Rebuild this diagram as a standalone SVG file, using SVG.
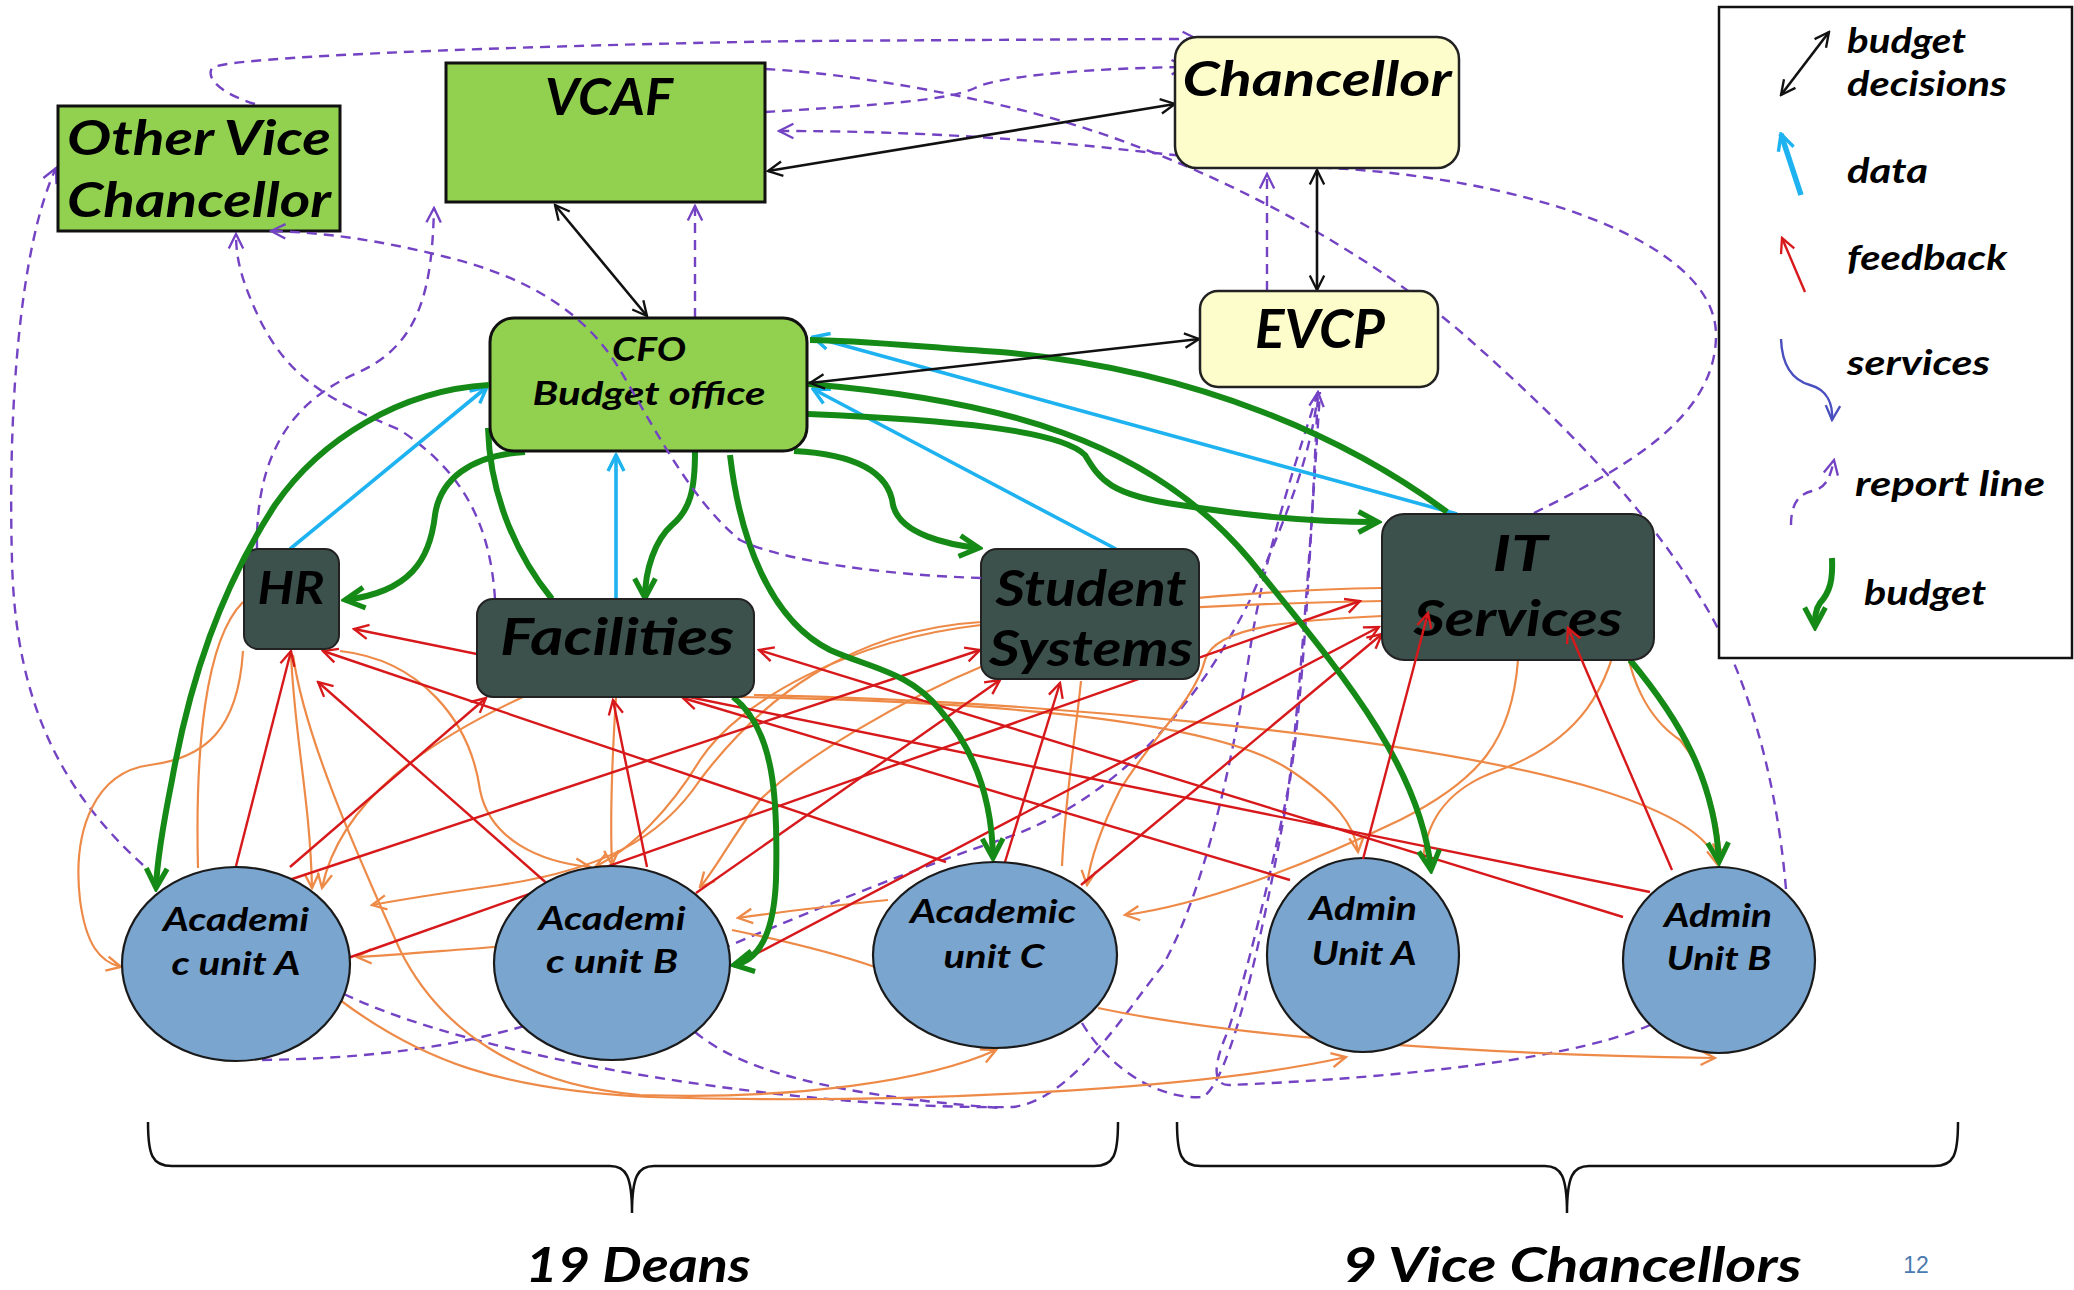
<svg xmlns="http://www.w3.org/2000/svg" width="2074" height="1290" viewBox="0 0 2074 1290">
  <defs>
    <style>
      .lbl { font-family: "Lato", "Open Sans", "DejaVu Sans", sans-serif; font-weight: bold; font-style: italic; fill: #000; text-anchor: middle; }
      .leg { font-family: "Lato", "Open Sans", "DejaVu Sans", sans-serif; font-weight: bold; font-style: italic; fill: #000; font-size: 34px; }
      .green { fill: #92d050; stroke: #111; stroke-width: 3; }
      .pale { fill: #fdfccb; stroke: #222; stroke-width: 2.5; }
      .dark { fill: #3c504c; stroke: #222; stroke-width: 2; }
      .unit { fill: #7aa5cf; stroke: #1a1a1a; stroke-width: 2.2; }
      .bd { stroke: #111; stroke-width: 2.6; fill: none; marker-start: url(#ah-black); marker-end: url(#ah-black); }
      .dt { stroke: #1eb3f0; stroke-width: 3.6; fill: none; marker-end: url(#ah-cyan); }
      .fb { stroke: #d7191c; stroke-width: 2.4; fill: none; marker-end: url(#ah-red); }
      .sv { stroke: #ee8a48; stroke-width: 2.2; fill: none; }
      .sva { marker-end: url(#ah-orange); }
      .rp { stroke: #7443c4; stroke-width: 2.4; fill: none; stroke-dasharray: 10 7; }
      .rpa { marker-end: url(#ah-purple); }
      .bg { stroke: #168a16; stroke-width: 6; fill: none; }
      .bga { marker-end: url(#ah-green); }
      .brace { stroke: #111; stroke-width: 2.5; fill: none; }
    </style>
    <marker id="ah-black" viewBox="0 0 20 20" refX="18" refY="10" markerWidth="18" markerHeight="18" markerUnits="userSpaceOnUse" orient="auto-start-reverse">
      <path d="M2,2 L18,10 L2,18" fill="none" stroke="#111" stroke-width="2.6"/>
    </marker>
    <marker id="ah-cyan" viewBox="0 0 20 20" refX="18" refY="10" markerWidth="20" markerHeight="20" markerUnits="userSpaceOnUse" orient="auto">
      <path d="M2,2 L18,10 L2,18" fill="none" stroke="#1eb3f0" stroke-width="3.4"/>
    </marker>
    <marker id="ah-red" viewBox="0 0 20 20" refX="18" refY="10" markerWidth="18" markerHeight="18" markerUnits="userSpaceOnUse" orient="auto">
      <path d="M2,2 L18,10 L2,18" fill="none" stroke="#d7191c" stroke-width="2.6"/>
    </marker>
    <marker id="ah-orange" viewBox="0 0 20 20" refX="18" refY="10" markerWidth="18" markerHeight="18" markerUnits="userSpaceOnUse" orient="auto">
      <path d="M2,2 L18,10 L2,18" fill="none" stroke="#ee8a48" stroke-width="2.6"/>
    </marker>
    <marker id="ah-purple" viewBox="0 0 20 20" refX="18" refY="10" markerWidth="18" markerHeight="18" markerUnits="userSpaceOnUse" orient="auto">
      <path d="M2,2 L18,10 L2,18" fill="none" stroke="#7443c4" stroke-width="2.6"/>
    </marker>
    <marker id="ah-green" viewBox="0 0 20 20" refX="17" refY="10" markerWidth="26" markerHeight="26" markerUnits="userSpaceOnUse" orient="auto">
      <path d="M2,2 L17,10 L2,18" fill="none" stroke="#168a16" stroke-width="4"/>
    </marker>
    <marker id="ah-blue" viewBox="0 0 20 20" refX="18" refY="10" markerWidth="18" markerHeight="18" markerUnits="userSpaceOnUse" orient="auto">
      <path d="M2,2 L18,10 L2,18" fill="none" stroke="#4a4fc0" stroke-width="2.6"/>
    </marker>
  </defs>

  <rect width="2074" height="1290" fill="#ffffff"/>

  <!-- connectors, drawn beneath the boxes -->
  <g id="connectors">
    <!-- report lines (dashed) -->
    <path class="rp rpa" d="M255,104 C225,95 205,80 212,68 C225,55 600,44 800,41 C1000,40 1100,39 1197,39"/>
    <path class="rp" d="M1786,889 C1775,760 1740,660 1700,597 C1640,500 1560,420 1470,340 C1380,260 1200,150 1000,105 C900,82 820,72 765,69"/>
    <path class="rp rpa" d="M765,112 C880,105 950,100 975,88 C1000,75 1100,68 1186,67"/>
    <path class="rp rpa" d="M1534,513 C1620,470 1716,420 1716,335 C1716,240 1520,178 1330,168 C1250,163 1180,156 1100,147 C1000,137 900,131 779,131"/>
    <path class="rp rpa" d="M1267,291 L1267,174"/>
    <path class="rp rpa" d="M695,318 L695,206"/>
    <path class="rp rpa" d="M143,865 C60,790 15,700 12,560 C8,420 18,250 56,168"/>
    <path class="rp rpa" d="M257,549 C255,445 300,398 357,373 C420,345 432,290 434,208"/>
    <path class="rp rpa" d="M495,599 C490,520 460,470 400,430 C330,400 290,380 260,320 C242,282 236,260 236,234"/>
    <path class="rp rpa" d="M262,1060 C400,1058 500,1040 600,1000 C720,950 880,880 1000,840 C1120,800 1200,700 1250,600 C1290,510 1312,450 1318,392"/>
    <path class="rp" d="M344,994 C480,1060 800,1110 1013,1107 C1070,1100 1120,1020 1163,965 C1200,900 1230,780 1250,650 C1265,550 1300,450 1318,392"/>
    <path class="rp" d="M1082,1023 C1110,1070 1160,1100 1203,1097 C1230,1080 1260,950 1287,800 C1300,700 1310,550 1320,392"/>
    <path class="rp" d="M1650,1025 C1560,1065 1350,1080 1230,1085 C1210,1086 1215,1060 1228,1031 C1245,980 1270,880 1290,780 C1305,680 1312,520 1318,392"/>
    <path class="rp" d="M695,1032 C740,1070 830,1095 1000,1108"/>

    <!-- services (orange) -->
    <path class="sv sva" d="M243,651 C238,730 205,758 150,765 C95,772 72,830 80,900 C86,945 100,962 121,967"/>
    <path class="sv" d="M243,602 C205,640 195,750 198,868"/>
    <path class="sv sva" d="M291,655 C295,740 310,800 312,888"/>
    <path class="sv sva" d="M293,655 C305,740 360,860 400,950 C440,1030 520,1085 640,1095 C800,1100 930,1080 996,1050"/>
    <path class="sv sva" d="M340,1000 C420,1060 500,1090 650,1097 C900,1105 1200,1090 1346,1057"/>
    <path class="sv sva" d="M340,651 C420,660 470,720 480,790 C490,840 540,862 590,867"/>
    <path class="sv sva" d="M523,697 C430,740 340,800 322,888"/>
    <path class="sv sva" d="M616,697 C612,760 610,820 612,865"/>
    <path class="sv sva" d="M740,697 C900,700 1200,710 1290,770 C1335,800 1355,825 1358,852"/>
    <path class="sv sva" d="M754,695 C1000,700 1400,730 1600,790 C1680,815 1712,840 1717,864"/>
    <path class="sv sva" d="M1382,588 C1250,590 1100,605 981,625 C850,640 740,700 700,760 C670,810 630,850 596,866"/>
    <path class="sv sva" d="M990,663 C900,700 800,760 760,800 C730,840 715,870 700,887"/>
    <path class="sv sva" d="M1382,601 C1250,603 1100,612 981,622 C850,630 760,700 700,780 C660,840 600,870 500,885 C450,892 410,898 372,905"/>
    <path class="sv sva" d="M1382,616 C1300,620 1215,625 1205,660 C1195,700 1150,740 1120,790 C1100,830 1090,860 1087,885"/>
    <path class="sv sva" d="M1518,660 C1512,740 1480,780 1400,820 C1300,868 1200,905 1125,915"/>
    <path class="sv" d="M1623,613 C1610,690 1580,740 1500,770 C1440,790 1425,830 1423,862"/>
    <path class="sv sva" d="M1623,613 C1625,680 1650,720 1680,740 C1705,770 1720,820 1720,858"/>
    <path class="sv sva" d="M1098,1008 C1250,1040 1500,1055 1715,1058"/>
    <path class="sv" d="M732,930 C780,940 840,955 875,967"/>
    <path class="sv sva" d="M888,900 C840,905 780,912 738,918"/>
    <path class="sv sva" d="M495,947 C450,950 400,955 357,957"/>
    <path class="sv" d="M1081,681 C1075,740 1065,800 1062,866"/>

    <!-- feedback (red) -->
    <path class="fb" d="M236,866 L291,651"/>
    <path class="fb" d="M290,867 L486,698"/>
    <path class="fb" d="M265,888 L980,650"/>
    <path class="fb" d="M348,958 L1360,601"/>
    <path class="fb" d="M551,887 L318,682"/>
    <path class="fb" d="M647,867 L613,700"/>
    <path class="fb" d="M696,893 L1000,680"/>
    <path class="fb" d="M754,955 L1379,627"/>
    <path class="fb" d="M1081,885 L1382,634"/>
    <path class="fb" d="M1005,862 L1060,683"/>
    <path class="fb" d="M946,862 L323,651"/>
    <path class="fb" d="M1623,917 L759,650"/>
    <path class="fb" d="M1650,892 L354,629"/>
    <path class="fb" d="M1290,880 L683,698"/>

    <!-- data (cyan) -->
    <path class="dt" d="M290,549 L487,387"/>
    <path class="dt" d="M616,599 L616,455"/>
    <path class="dt" d="M1116,549 L813,389"/>
    <path class="dt" d="M1457,514 L813,337"/>

    <!-- budget (green) -->
    <path class="bg bga" d="M525,452 C470,455 440,480 435,515 C430,560 410,592 345,600"/>
    <path class="bg" d="M488,428 C490,500 520,560 552,599"/>
    <path class="bg bga" d="M695,452 C695,490 690,510 672,525 C655,540 645,570 645,598"/>
    <path class="bg bga" d="M730,455 C740,540 770,620 830,650 C870,668 910,672 940,710 C975,750 992,800 993,858"/>
    <path class="bg bga" d="M794,451 C870,455 890,480 893,505 C900,535 950,545 979,548"/>
    <path class="bg bga" d="M808,414 C950,420 1060,430 1085,455 C1100,480 1110,495 1180,505 C1260,518 1330,522 1378,522"/>
    <path class="bg bga" d="M808,384 C1000,400 1150,440 1250,560 C1330,660 1420,760 1431,870"/>
    <path class="bg" d="M1447,512 C1350,440 1200,370 1000,352 C900,345 850,340 810,340"/>
    <path class="bg bga" d="M1630,660 C1680,720 1715,780 1719,862"/>
    <path class="bg bga" d="M733,697 C775,730 778,800 776,880 C774,930 760,960 734,965"/>

    <!-- budget decisions (black, two-way) -->
    <path class="bd" d="M768,171 L1175,104"/>
    <path class="bd" d="M555,205 L647,316"/>
    <path class="bd" d="M1317,170 L1317,290"/>
    <path class="bd" d="M810,383 L1199,339"/>
  </g>

  <!-- boxes -->
  <g id="other-vice-chancellor">
    <rect class="green" x="58" y="106" width="282" height="125"/>
    <text class="lbl" x="199" y="155" font-size="48" textLength="264" lengthAdjust="spacingAndGlyphs">Other Vice</text>
    <text class="lbl" x="199" y="217" font-size="48" textLength="264" lengthAdjust="spacingAndGlyphs">Chancellor</text>
  </g>
  <g id="vcaf">
    <rect class="green" x="446" y="63" width="319" height="139"/>
    <text class="lbl" x="609" y="115" font-size="52" textLength="128" lengthAdjust="spacingAndGlyphs">VCAF</text>
  </g>
  <g id="chancellor">
    <rect class="pale" x="1175" y="37" width="284" height="131" rx="22"/>
    <text class="lbl" x="1317" y="96" font-size="48" textLength="269" lengthAdjust="spacingAndGlyphs">Chancellor</text>
  </g>
  <g id="evcp">
    <rect class="pale" x="1200" y="291" width="238" height="96" rx="18"/>
    <text class="lbl" x="1320" y="348" font-size="54" textLength="130" lengthAdjust="spacingAndGlyphs">EVCP</text>
  </g>
  <g id="cfo">
    <rect class="green" x="490" y="318" width="317" height="133" rx="24" stroke-width="2.2"/>
    <text class="lbl" x="649" y="361" font-size="33" textLength="74" lengthAdjust="spacingAndGlyphs">CFO</text>
    <text class="lbl" x="649" y="405" font-size="33" textLength="233" lengthAdjust="spacingAndGlyphs">Budget office</text>
  </g>
  <g id="hr">
    <rect class="dark" x="244" y="549" width="95" height="100" rx="14"/>
    <text class="lbl" x="291" y="604" font-size="46" textLength="67" lengthAdjust="spacingAndGlyphs">HR</text>
  </g>
  <g id="facilities">
    <rect class="dark" x="477" y="599" width="277" height="98" rx="16"/>
    <text class="lbl" x="617" y="655" font-size="52" textLength="234" lengthAdjust="spacingAndGlyphs">Facilities</text>
  </g>
  <g id="student-systems">
    <rect class="dark" x="981" y="549" width="218" height="130" rx="16"/>
    <text class="lbl" x="1091" y="606" font-size="50" textLength="191" lengthAdjust="spacingAndGlyphs">Student</text>
    <text class="lbl" x="1091" y="666" font-size="50" textLength="204" lengthAdjust="spacingAndGlyphs">Systems</text>
  </g>
  <g id="it-services">
    <rect class="dark" x="1382" y="514" width="272" height="146" rx="22"/>
    <text class="lbl" x="1520" y="571" font-size="50" textLength="55" lengthAdjust="spacingAndGlyphs">IT</text>
    <text class="lbl" x="1518" y="636" font-size="50" textLength="209" lengthAdjust="spacingAndGlyphs">Services</text>
  </g>

  <!-- units -->
  <g id="academic-unit-a">
    <ellipse class="unit" cx="236" cy="964" rx="114" ry="97"/>
    <text class="lbl" x="236" y="931" font-size="32" textLength="146" lengthAdjust="spacingAndGlyphs">Academi</text>
    <text class="lbl" x="236" y="975" font-size="32" textLength="129" lengthAdjust="spacingAndGlyphs">c unit A</text>
  </g>
  <g id="academic-unit-b">
    <ellipse class="unit" cx="612" cy="963" rx="118" ry="97"/>
    <text class="lbl" x="612" y="930" font-size="32" textLength="147" lengthAdjust="spacingAndGlyphs">Academi</text>
    <text class="lbl" x="612" y="973" font-size="32" textLength="132" lengthAdjust="spacingAndGlyphs">c unit B</text>
  </g>
  <g id="academic-unit-c">
    <ellipse class="unit" cx="995" cy="955" rx="122" ry="93"/>
    <text class="lbl" x="993" y="923" font-size="32" textLength="166" lengthAdjust="spacingAndGlyphs">Academic</text>
    <text class="lbl" x="994" y="968" font-size="32" textLength="101" lengthAdjust="spacingAndGlyphs">unit C</text>
  </g>
  <g id="admin-unit-a">
    <ellipse class="unit" cx="1363" cy="955" rx="96" ry="97"/>
    <text class="lbl" x="1363" y="920" font-size="32" textLength="108" lengthAdjust="spacingAndGlyphs">Admin</text>
    <text class="lbl" x="1364" y="965" font-size="32" textLength="105" lengthAdjust="spacingAndGlyphs">Unit A</text>
  </g>
  <g id="admin-unit-b">
    <ellipse class="unit" cx="1719" cy="960" rx="96" ry="93"/>
    <text class="lbl" x="1718" y="927" font-size="32" textLength="108" lengthAdjust="spacingAndGlyphs">Admin</text>
    <text class="lbl" x="1719" y="970" font-size="32" textLength="105" lengthAdjust="spacingAndGlyphs">Unit B</text>
  </g>

  <!-- connectors that run across the boxes -->
  <g id="connectors-over">
    <path class="rp rpa" d="M981,578 C880,575 780,560 740,540 C690,500 650,420 620,370 C590,320 540,280 446,257 C380,240 320,232 271,231"/>
    <path class="bg bga" d="M489,385 C400,390 320,440 275,505 C220,590 190,680 172,780 C162,830 157,860 156,888"/>
    <path class="fb" d="M1363,859 L1428,613"/>
    <path class="fb" d="M1672,870 L1568,628"/>
  </g>

  <!-- legend -->
  <g id="legend">
    <rect x="1719" y="7" width="353" height="651" fill="#ffffff" stroke="#111" stroke-width="2.5"/>
    <path class="bd" d="M1781,95 L1829,32"/>
    <text class="leg" x="1847" y="53" textLength="119" lengthAdjust="spacingAndGlyphs">budget</text>
    <text class="leg" x="1847" y="96" textLength="160" lengthAdjust="spacingAndGlyphs">decisions</text>
    <path d="M1801,195 L1781,134" fill="none" stroke="#1eb3f0" stroke-width="5.5" marker-end="url(#ah-cyan)"/>
    <text class="leg" x="1847" y="183" textLength="81" lengthAdjust="spacingAndGlyphs">data</text>
    <path class="fb" d="M1805,292 L1782,238"/>
    <text class="leg" x="1847" y="270" textLength="160" lengthAdjust="spacingAndGlyphs">feedback</text>
    <path d="M1781,339 C1782,365 1792,380 1810,385 C1828,390 1833,405 1832,420" fill="none" stroke="#4a4fc0" stroke-width="2.4" marker-end="url(#ah-blue)"/>
    <text class="leg" x="1847" y="375" textLength="143" lengthAdjust="spacingAndGlyphs">services</text>
    <path class="rp rpa" d="M1791,525 C1791,505 1798,494 1812,491 C1826,488 1830,478 1834,460" stroke-dasharray="7 5"/>
    <text class="leg" x="1855" y="496" textLength="190" lengthAdjust="spacingAndGlyphs">report line</text>
    <path class="bg bga" d="M1832,558 C1833,580 1830,592 1820,603 C1815,610 1815,618 1815,627"/>
    <text class="leg" x="1864" y="605" textLength="122" lengthAdjust="spacingAndGlyphs">budget</text>
  </g>

  <!-- group braces and captions -->
  <g id="groups">
    <path class="brace" d="M148,1122 C148,1155 152,1166 172,1166 L610,1166 C626,1166 632,1176 632,1213 C632,1176 638,1166 654,1166 L1094,1166 C1114,1166 1118,1155 1118,1122"/>
    <path class="brace" d="M1177,1122 C1177,1155 1181,1166 1201,1166 L1545,1166 C1561,1166 1567,1176 1567,1213 C1567,1176 1573,1166 1589,1166 L1934,1166 C1954,1166 1958,1155 1958,1122"/>
    <text class="lbl" x="638" y="1282" font-size="48" textLength="225" lengthAdjust="spacingAndGlyphs">19 Deans</text>
    <text class="lbl" x="1572" y="1282" font-size="48" textLength="459" lengthAdjust="spacingAndGlyphs">9 Vice Chancellors</text>
    <text x="1916" y="1273" font-family="Liberation Sans, Arial, sans-serif" font-size="23" fill="#4a7ab0" text-anchor="middle">12</text>
  </g>
</svg>
